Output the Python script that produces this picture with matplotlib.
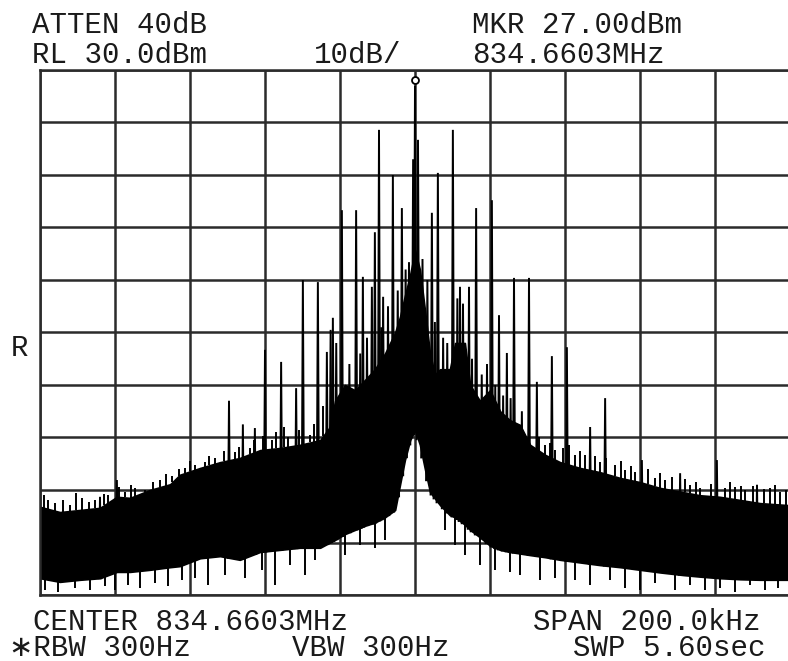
import numpy as np
import matplotlib
matplotlib.use('Agg')
import matplotlib.pyplot as plt
import matplotlib.transforms as mtransforms

# offset from center frequency (kHz) and level (dBm)
band_freq = [-100, -94.7, -89.3, -84, -79.5, -76, -70.7, -65.3, -62.7, -57.3,
             -52, -46.7, -41.3, -36, -30.7, -25.3, -22.7, -21.3, -18.7, -16,
             -13.3, -10.7, -8, -5.3, -4, -2.7, -1.3, 0, 1.3, 2.7,
             4, 5.3, 6.7, 9.3, 10.7, 13.3, 14.7, 17.3, 20, 22.7,
             25.3, 28, 30.7, 34.7, 38.7, 44, 49.3, 54.7, 60, 65.3,
             71.5, 76, 81.3, 86.7, 92, 100]
band_top = [-53.2, -54.2, -53.8, -53.4, -51.3, -51.5, -50.0, -48.9, -47.1, -45.8,
            -44.7, -43.9, -42.4, -42.0, -41.4, -40.5, -38.0, -33.0, -30.0, -31.0,
            -29.0, -27.0, -24.0, -20.0, -17.0, -13.0, -9.0, -4.3, -8.0, -16.0,
            -24.0, -28.0, -27.0, -27.0, -22.0, -22.0, -30.0, -33.0, -31.0, -35.0,
            -36.7, -37.6, -41.4, -43.3, -44.7, -45.8, -46.6, -47.7, -48.5, -49.6,
            -50.4, -51.0, -51.3, -51.9, -52.5, -52.9]
band_low = [-66.8, -67.5, -67.1, -66.8, -65.6, -65.6, -65.2, -64.7, -64.5, -63.0,
            -62.6, -63.3, -61.8, -61.4, -61.0, -61.0, -60.0, -59.5, -58.4, -57.6,
            -56.8, -56.2, -55.2, -53.8, -49.0, -44.3, -40.5, -38.6, -41.4, -46.2,
            -50.4, -51.6, -52.9, -54.8, -55.2, -56.6, -57.6, -59.0, -60.6, -61.4,
            -61.8, -62.1, -62.4, -62.8, -63.3, -63.8, -64.3, -64.7, -65.2, -65.7,
            -66.2, -66.5, -66.8, -67.0, -67.1, -67.1]

spike_freq = [-84.0, -79.5, -49.6, -45.9, -42.7, -40.0, -35.7, -31.7, -29.9, -25.9,
              -23.5, -21.9, -19.5, -15.7, -13.9, -11.5, -10.7, -9.6, -8.5, -5.9,
              -3.5, -1.6, -0.5, 0.0, 0.8, 4.5, 6.1, 10.1, 12.0, 14.4,
              16.3, 20.5, 22.4, 24.5, 26.4, 30.4, 32.5, 36.5, 40.5, 46.7,
              50.7, 60.5, 70.7, 80.5, 91.2,
              -22.5, -21.0, -17.5, -14.6, -12.8, -9.0, -7.2, -4.6, -2.5, 2.0,
              3.3, 5.3, 7.5, 8.6, 11.3, 12.8, 15.2, 17.8, 19.2, 21.4,
              23.5, 25.5, 28.5]
spike_level = [-51.3, -48.1, -33.0, -37.5, -38.2, -23.3, -25.6, -30.6, -10.0, -10.4,
               -23.7, -17.2, 3.3, 3.3, -9.4, -11.3, -0.9, 18.6, -13.2, 10.0,
               3.7, -6.6, 13.0, 27.0, 16.7, 2.8, 10.4, 18.6, -11.3, -11.3,
               3.7, 5.2, -16.7, -23.9, -9.6, -9.6, -29.4, -24.5, -22.8, -38.0,
               -32.5, -44.3, -46.8, -44.3, -49.0,
               -19.5, -22.0, -26.0, -24.0, -21.0, -19.0, -15.0, -12.0, -8.0, -6.0,
               -10.0, -18.0, -21.0, -22.0, -13.5, -14.5, -25.0, -28.0, -26.0, -30.0,
               -32.0, -32.5, -35.0]

grass_freq = [-97.9, -96, -92, -88.8, -85.3, -81.9, -77.3, -74.7, -72, -68,
              -64.8, -61.3, -58.7, -56, -53.3, -48, -44, -38.1, -33.9, -28,
              34.7, 37.3, 42.7, 45.3, 49.3, 53.3, 56, 58.7, 64, 66.7,
              73.3, 76, 82.7, 85.3, 88, 94.7, 97.3,
              -99, -94, -90.5, -87, -83, -79, -75.8, -70, -66.5, -63,
              -60, -55, -51, -47, -43, -40.5, -37, -35, -31, -27, -24.5,
              33, 36, 39.5, 41, 44, 48, 51, 55, 57.5, 62,
              65.3, 68.5, 72, 75, 79, 84, 87, 90, 93, 96, 99]
grass_level = [-51.9, -52.5, -52.9, -51.5, -51.9, -51.0, -50.4, -49.6, -50.0, -48.1,
               -47.3, -45.8, -45.2, -44.7, -43.9, -42.8, -42.0, -40.5, -39.9, -39.5,
               -41.4, -42.4, -43.3, -43.3, -44.7, -45.2, -46.2, -46.6, -47.7, -48.1,
               -49.0, -49.6, -49.6, -49.4, -50.0, -49.6, -50.4,
               -51.0, -52.0, -50.5, -52.3, -50.8, -49.5, -49.0, -48.5, -47.0, -46.0,
               -44.5, -43.5, -42.5, -41.8, -40.5, -39.8, -39.0, -38.0, -38.5, -37.5, -34.0,
               -40.0, -41.0, -42.0, -41.5, -42.5, -43.5, -44.0, -44.5, -45.5, -46.0,
               -46.8, -47.5, -48.0, -48.5, -48.8, -48.5, -49.2, -49.3, -49.8, -49.0, -50.0]

dip_freq = [-98.7, -95.2, -90.7, -86.7, -82.7, -80, -76.5, -73.3, -69.3, -65.9,
            -62.1, -58.7, -55.2, -50.7, -45.3, -40.8, -37.3, -33.3, -29.3, -26.7,
            -18.7, -14.7, -10.7, -8, 8, 10.7, 13.3, 17.3, 21.3, 25.3,
            28, 33.3, 37.3, 42.7, 46.7, 52, 56, 60, 64, 69.3,
            73.3, 77.3, 81.3, 85.3, 89.3, 93.3, 96.8]
dip_level = [-69.0, -69.4, -68.7, -69.0, -68.3, -69.0, -68.1, -68.7, -67.7, -68.3,
             -67.1, -66.8, -68.1, -66.2, -66.8, -65.2, -68.1, -64.3, -66.2, -63.3,
             -62.4, -60.5, -61.0, -59.5, -57.6, -60.5, -62.4, -64.3, -65.2, -65.6,
             -66.2, -67.1, -66.8, -67.1, -68.1, -67.1, -68.7, -69.0, -67.7, -69.0,
             -68.1, -69.0, -68.7, -69.4, -68.1, -69.0, -68.7]

mkr_freq = 0.0
mkr_level = 27.0

W, H = 788, 661
fig = plt.figure(figsize=(W / 100, H / 100), dpi=100)
ax = fig.add_axes([40 / W, 1 - 595 / H, 750 / W, 525 / H])
ax.set_xlim(-100, 100)
ax.set_ylim(-70, 30)
ax.set_xticks(np.arange(-100, 101, 20))
ax.set_yticks(np.arange(-70, 31, 10))
ax.tick_params(length=0, labelbottom=False, labelleft=False)
ax.set_axisbelow(True)
ax.grid(True, color='#2b2b2b', linewidth=1.8)
for s in ax.spines.values():
    s.set_color('#2b2b2b')
    s.set_linewidth(1.8)

# noise band
ax.fill_between(band_freq, band_low, band_top, color='black', linewidth=1.2, edgecolor='black')

# grass above / dips below the band
g_base = np.interp(grass_freq, band_freq, band_top)
ax.vlines(grass_freq, g_base, grass_level, color='black', linewidth=1.4)
d_base = np.interp(dip_freq, band_freq, band_low)
ax.vlines(dip_freq, dip_level, d_base, color='black', linewidth=1.4)

# spectral lines
s_base = np.interp(spike_freq, band_freq, band_low)
w = 0.35
for f, lvl, b in zip(spike_freq, spike_level, s_base):
    ax.plot([f - w, f, f + w], [b, lvl, b], color='black', linewidth=1.4,
            solid_joinstyle='miter')

# marker
mk_tr = mtransforms.offset_copy(ax.transData, fig=fig, x=0, y=4, units='points')
ax.plot([mkr_freq], [mkr_level], 'o', ms=5, mfc='white', mec='black', mew=1.3,
        transform=mk_tr, clip_on=False)

# annotations
font = dict(family=['Liberation Mono', 'DejaVu Sans'], size=21, color='#1a1a1a')
def put(x, y, s, **kw):
    fig.text(x / W, 1 - y / H, s, va='baseline', ha='left', **font, **kw)

put(32, 33, 'ATTEN 40dB')
put(32, 63, 'RL 30.0dBm')
put(314, 63, '10dB/')
put(472, 33, 'MKR 27.00dBm')
put(472, 63, '834.6603MHz')
put(11, 356, 'R')
put(33, 630, 'CENTER 834.6603MHz')
put(533, 630, 'SPAN 200.0kHz')
put(9, 656, '\u2217RBW 300Hz')
put(292, 656, 'VBW 300Hz')
put(573, 656, 'SWP 5.60sec')

fig.savefig('out.png', dpi=100, facecolor='white')
